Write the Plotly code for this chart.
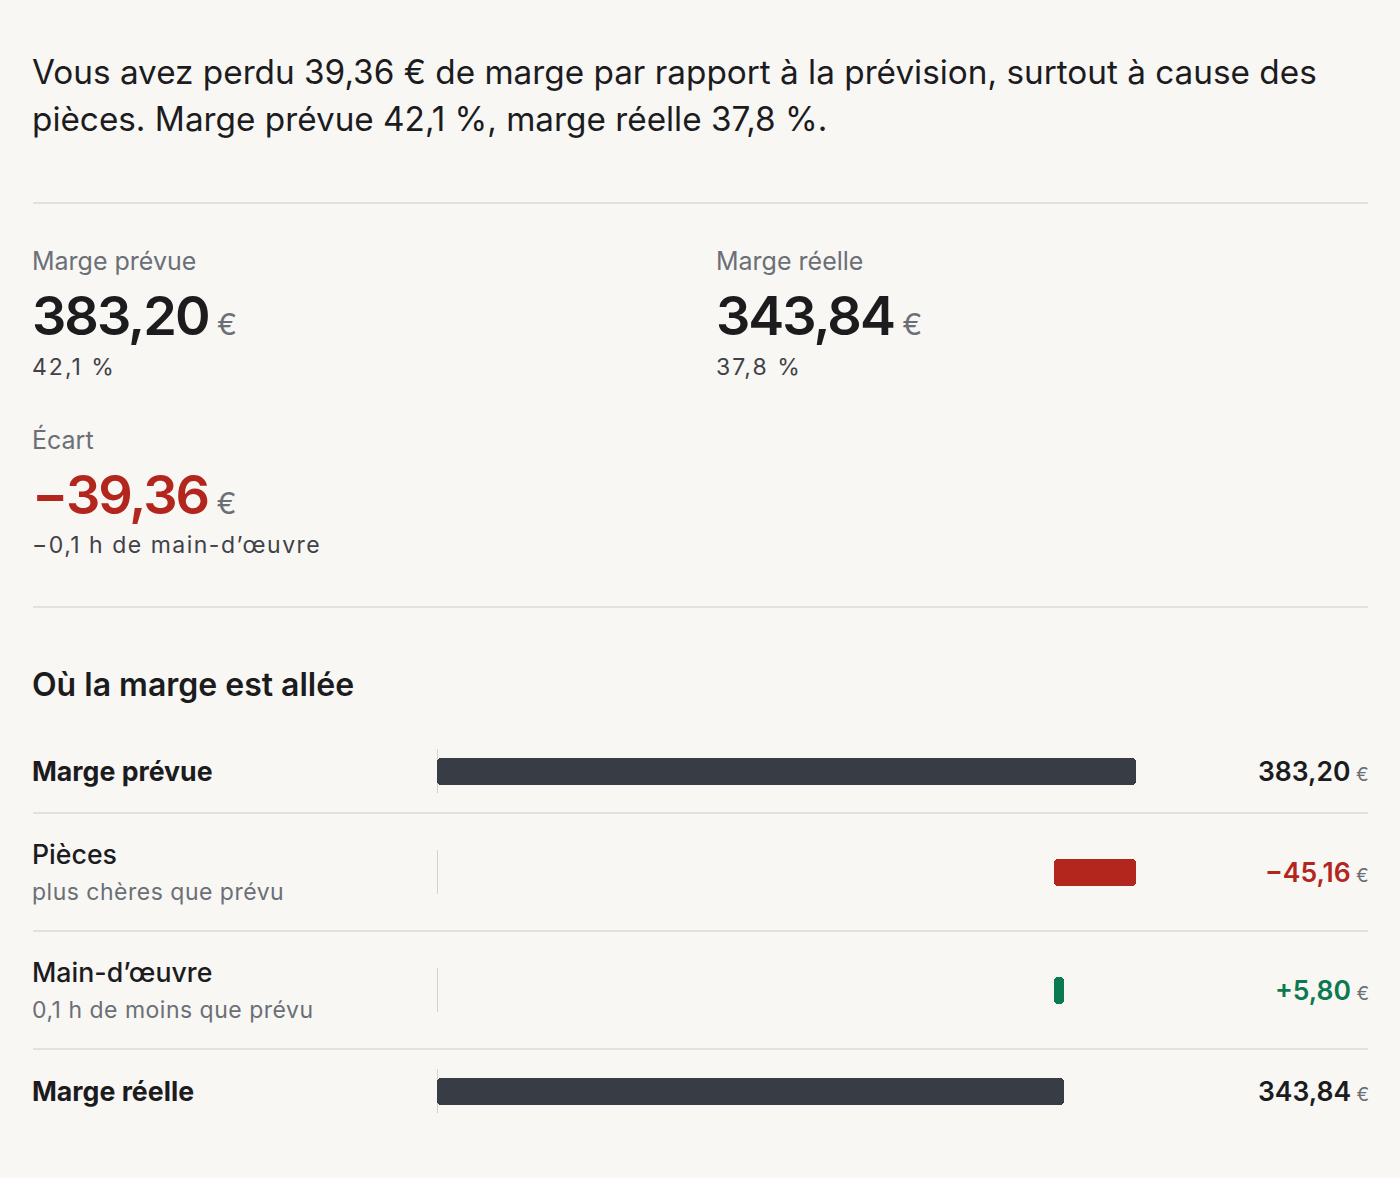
import plotly.graph_objects as go

# waterfall data
categories = ["Marge prévue", "Pièces", "Main-d’œuvre", "Marge réelle"]
subtitles = ["", "plus chères que prévu", "0,1 h de moins que prévu", ""]
kinds = ["total", "delta", "delta", "total"]
values = [383.20, -45.16, 5.80, 343.84]

plan_pct = 42.1
real_pct = 37.8
labour_hours = -0.1

W, H = 1400, 1178
BG = "#f8f7f4"
INK = "#1c1c1e"
GREY = "#6b6f76"
SUB = "#3f4247"
RED = "#b3261e"
GREEN = "#0b7a4f"
DARK = "#383d45"
RULE = "#e3e1dc"
FONT = "Inter"

LEFT = 31   # text left edge (annotation adds ~2px)
RIGHT = 1370


def fr(v, signed=False):
    s = f"{abs(v):.2f}".replace(".", ",")
    if v < 0:
        return "\u2212" + s
    return ("+" + s) if signed else s


def fr1(v):
    s = f"{abs(v):.1f}".replace(".", ",")
    return ("\u2212" + s) if v < 0 else s


def px(x):
    return x / W


def spaced(s, ls):
    return f'<span style="letter-spacing:{ls}px">{s}</span>'


ecart = values[-1] - values[0]

# bar geometry from running total
bases, lengths, colors = [], [], []
running = 0
for k, v in zip(kinds, values):
    if k == "total":
        bases.append(0)
        lengths.append(v)
        colors.append(DARK)
        running = v
    else:
        bases.append(running + v if v < 0 else running)
        lengths.append(abs(v))
        colors.append(RED if v < 0 else GREEN)
        running += v

# row layout (pixel units on y)
row_top = 729
centers = []
y = row_top
for s in subtitles:
    h = 118 if s else 84
    centers.append(y + h / 2)
    y += h

fig = go.Figure()
fig.add_trace(go.Bar(
    y=centers,
    x=lengths,
    base=bases,
    orientation="h",
    width=27,
    marker=dict(color=colors, cornerradius=4, line=dict(width=0)),
    hoverinfo="skip",
    showlegend=False,
))

ann = []


def text(x, y, s, size, color=INK, weight=400, anchor="left"):
    ann.append(dict(
        x=px(x), y=y, xref="paper", yref="y", text=s, showarrow=False,
        xanchor=anchor, yanchor="middle", borderpad=0,
        font=dict(family=FONT, size=size, color=color, weight=weight),
    ))


# headline
text(LEFT, 72, f"Vous avez perdu {fr(abs(ecart))} € de marge par rapport à la prévision, surtout à cause des", 33.3)
text(LEFT, 119, f"pièces. Marge prévue {fr1(plan_pct)} %, marge réelle {fr1(real_pct)} %.", 33.3)

euro_big = f'<span style="font-size:30px;color:{GREY};font-weight:400;letter-spacing:0px"> €</span>'


def big(v):
    return spaced(fr(v), -2) + euro_big


# KPI blocks
text(LEFT, 261, categories[0], 25, GREY)
text(LEFT, 315, big(values[0]), 54, INK, 600)
text(LEFT, 367, spaced(f"{fr1(plan_pct)} %", 2), 23, SUB)

text(LEFT + 684, 261, categories[-1], 25, GREY)
text(LEFT + 684, 315, big(values[-1]), 54, INK, 600)
text(LEFT + 684, 367, spaced(f"{fr1(real_pct)} %", 2), 23, SUB)

text(LEFT, 439, "Écart", 25, GREY)
text(LEFT, 494, big(ecart), 54, RED, 600)
text(LEFT, 545, spaced(f"{fr1(labour_hours)} h de main-d’œuvre", 1.5), 23, SUB)

text(LEFT, 684, "Où la marge est allée", 32, INK, 600)

shapes = []
for yy in (203, 607):
    shapes.append(dict(type="line", xref="paper", yref="y", x0=px(33), x1=px(1368),
                       y0=yy, y1=yy, line=dict(color=RULE, width=2)))

euro_small = f'<span style="font-size:19px;color:{GREY};font-weight:400"> €</span>'
for i, (cat, sub, k, v, c) in enumerate(zip(categories, subtitles, kinds, values, centers)):
    if sub:
        text(LEFT, c - 18, cat, 26.7, INK, 500)
        text(LEFT, c + 20, spaced(sub, 0.5), 23, GREY)
    else:
        text(LEFT, c, cat, 26.7, INK, 700)
    vcol = INK if k == "total" else (RED if v < 0 else GREEN)
    vs = fr(v) if k == "total" else fr(v, signed=True)
    text(RIGHT, c, vs + euro_small, 26.5, vcol, 600, anchor="right")
    shapes.append(dict(type="line", xref="x", yref="y", x0=0, x1=0, y0=c - 22, y1=c + 22,
                       line=dict(color="#d6d2ca", width=2), layer="below"))
    if i < len(categories) - 1:
        yb = c + (59 if sub else 42)
        shapes.append(dict(type="line", xref="paper", yref="y", x0=px(33), x1=px(1368),
                           y0=yb, y1=yb, line=dict(color=RULE, width=2)))

fig.update_layout(
    width=W, height=H,
    margin=dict(l=0, r=0, t=0, b=0),
    paper_bgcolor=BG, plot_bgcolor=BG,
    xaxis=dict(domain=[px(437), px(1136)], range=[0, max(values)], visible=False, fixedrange=True),
    yaxis=dict(domain=[0, 1], range=[H, 0], visible=False, fixedrange=True),
    annotations=ann,
    shapes=shapes,
    bargap=0,
)

fig.write_html(
    "out.html",
    config={"displayModeBar": False},
    post_script=f"document.body.style.margin='0';document.body.style.background='{BG}';"
                "document.documentElement.style.overflow='hidden';",
)
